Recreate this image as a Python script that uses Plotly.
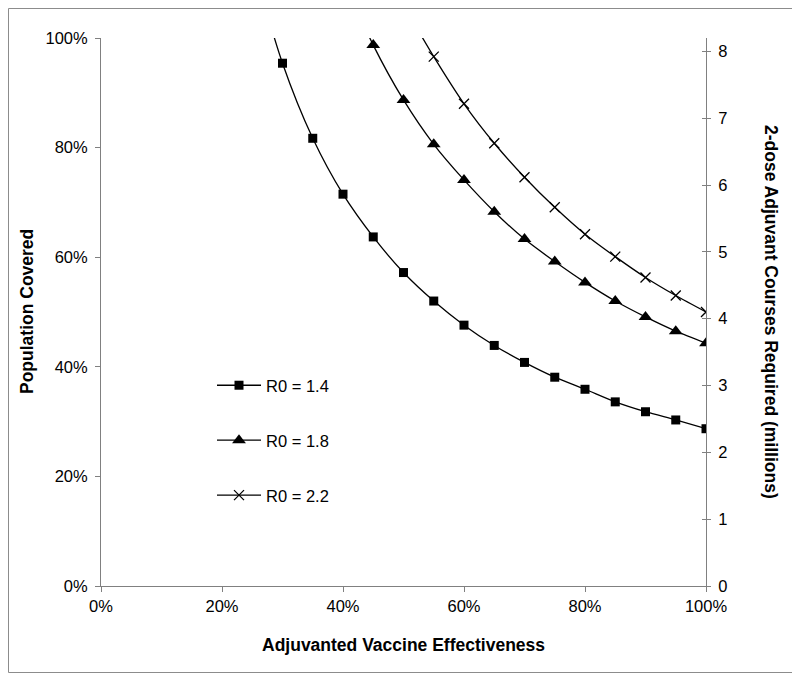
import plotly.graph_objects as go

# Vaccine effectiveness (x) for each series; first point of each is above 100% (clipped)
eff_14 = [0.25, 0.30, 0.35, 0.40, 0.45, 0.50, 0.55, 0.60, 0.65, 0.70, 0.75, 0.80, 0.85, 0.90, 0.95, 1.00]
cov_14 = [1.14, 0.954, 0.817, 0.715, 0.637, 0.572, 0.520, 0.476, 0.439, 0.408, 0.381, 0.359, 0.336, 0.318, 0.303, 0.287]

eff_18 = [0.40, 0.45, 0.50, 0.55, 0.60, 0.65, 0.70, 0.75, 0.80, 0.85, 0.90, 0.95, 1.00]
cov_18 = [1.11, 0.987, 0.887, 0.806, 0.741, 0.683, 0.633, 0.592, 0.554, 0.520, 0.491, 0.465, 0.443]

eff_22 = [0.50, 0.55, 0.60, 0.65, 0.70, 0.75, 0.80, 0.85, 0.90, 0.95, 1.00]
cov_22 = [1.06, 0.966, 0.880, 0.808, 0.746, 0.691, 0.642, 0.601, 0.563, 0.530, 0.500]

series_names = ["R0 = 1.4", "R0 = 1.8", "R0 = 2.2"]
x_ticks = [0, 0.2, 0.4, 0.6, 0.8, 1.0]
right_ticks = [0, 1, 2, 3, 4, 5, 6, 7, 8]
right_max = 8.2

FONT = "Liberation Sans, Arial, sans-serif"
AX = "#808080"

# page body has an 8px margin, so the figure is drawn at (8, 8)
W, H = 792, 666
ML, MR, MT, MB = 93, 94, 30, 88
PW, PH = W - ML - MR, H - MT - MB

fig = go.Figure()
specs = [
    (eff_14, cov_14, series_names[0], "square", 9, 0),
    (eff_18, cov_18, series_names[1], "triangle-up", 12, 0),
    (eff_22, cov_22, series_names[2], "x-thin", 10, 1.3),
]
for i, (xs, ys, nm, sym, sz, lw) in enumerate(specs):
    fig.add_trace(go.Scatter(
        x=xs, y=ys, name=nm, mode="lines+markers",
        line=dict(color="black", width=1.3, shape="spline", smoothing=0.8),
        marker=dict(symbol=sym, size=sz, color="black",
                    line=dict(color="black", width=lw)),
        legendgroup=f"g{i}", cliponaxis=True,
    ))

# empty traces to bind secondary axes
fig.add_trace(go.Scatter(x=[], y=[], yaxis="y2", showlegend=False, hoverinfo="skip"))
fig.add_trace(go.Scatter(x=[], y=[], yaxis="y3", showlegend=False, hoverinfo="skip"))

tickfont = dict(family=FONT, size=16.5, color="black")
titlefont = dict(family=FONT, size=17.5, color="black")

def px_x(p):  # window pixel -> paper x
    return (p - 8 - ML) / PW

def px_y(p):  # window pixel -> paper y
    return (H - MB + 8 - p) / PH

fig.update_layout(
    width=W, height=H,
    margin=dict(l=ML, r=MR, t=MT, b=MB),
    paper_bgcolor="white", plot_bgcolor="white",
    showlegend=True,
    legend=dict(x=px_x(212), y=px_y(368), xanchor="left", yanchor="top",
                font=dict(family=FONT, size=16.5, color="black"),
                bgcolor="rgba(0,0,0,0)", tracegroupgap=30.5, itemwidth=44),
    xaxis=dict(range=[0, 1], tickvals=x_ticks, tickformat=".0%",
               showgrid=False, zeroline=False, showline=True, linecolor=AX, linewidth=1,
               ticks="outside", ticklen=5, tickcolor=AX, tickfont=tickfont),
    yaxis=dict(range=[0, 1], tickvals=x_ticks, tickformat=".0%",
               showgrid=False, zeroline=False, showline=True, linecolor=AX, linewidth=1,
               ticks="outside", ticklen=5, tickcolor=AX, tickfont=tickfont,
               ticklabelstandoff=4),
    yaxis2=dict(range=[0, right_max], tickvals=right_ticks, overlaying="y", side="right",
                anchor="x", showgrid=False, zeroline=False, showline=True, linecolor=AX,
                linewidth=1, ticks="outside", ticklen=4, tickcolor=AX, tickfont=tickfont,
                ticklabelstandoff=4),
    yaxis3=dict(range=[0, right_max], tickvals=right_ticks, overlaying="y", side="right",
                anchor="x", showgrid=False, zeroline=False, showline=False,
                ticks="inside", ticklen=4, tickcolor=AX, showticklabels=False),
    annotations=[
        dict(text="<b>Adjuvanted Vaccine Effectiveness</b>", xref="paper", yref="paper",
             x=0.5, y=px_y(645), xanchor="center", yanchor="middle", showarrow=False, font=titlefont),
        dict(text="<b>Population Covered</b>", xref="paper", yref="paper",
             x=px_x(27), y=0.5, xanchor="center", yanchor="middle", textangle=-90,
             showarrow=False, font=titlefont),
        dict(text="<b>2-dose Adjuvant Courses Required (millions)</b>", xref="paper", yref="paper",
             x=px_x(771), y=0.5, xanchor="center", yanchor="middle", textangle=90,
             showarrow=False, font=titlefont),
    ],
    shapes=[dict(type="rect", xref="paper", yref="paper", x0=px_x(8.5), x1=px_x(798.5),
                 y0=px_y(672.5), y1=px_y(8.5), line=dict(color="#8c8c8c", width=1))],
)

fig.write_html("out.html")
